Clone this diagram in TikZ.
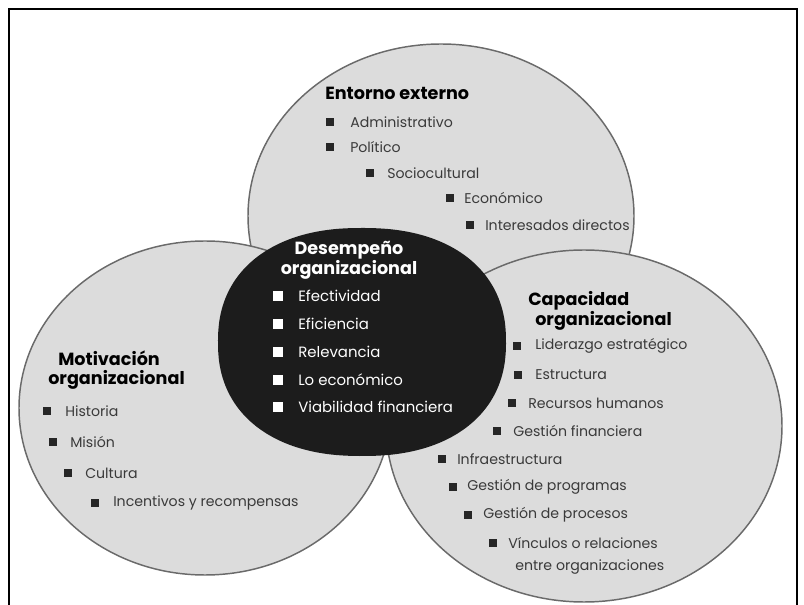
\documentclass[tikz,border=0pt]{standalone}
\usepackage{fontspec}
\setmainfont{Poppins}
\definecolor{zonefill}{HTML}{DCDCDC}
\definecolor{zoneline}{HTML}{6A6A6A}
\definecolor{corefill}{HTML}{1C1C1C}
\definecolor{itemtext}{HTML}{3A3A3A}
\tikzset{
  zone/.style={draw=zoneline, line width=1.1pt, fill=zonefill},
  core/.style={fill=corefill},
  head/.style={font=\bfseries\fontsize{13.2}{15}\selectfont, anchor=west, inner sep=0pt, text=black},
  corehead/.style={head, text=white, anchor=center},
  entry/.style={font=\fontsize{10.6}{12}\selectfont, anchor=west, inner sep=0pt, text=itemtext},
  coreentry/.style={entry, font=\fontsize{11.2}{12}\selectfont, text=white},
  blk/.style={fill=black!85, minimum size=6pt, inner sep=0pt},
  wht/.style={fill=white, minimum size=7pt, inner sep=0pt},
}
\begin{document}
\begin{tikzpicture}[x=0.75pt, y=-0.75pt]
\useasboundingbox (0,0) rectangle (804,605);
\clip (0,0) rectangle (804,605);

% page frame
\draw[line width=2pt] (9,9) rectangle (797,640);

% the three outer zones
\draw[zone] (441,216) ellipse [x radius=144.75pt, y radius=129pt];
\draw[zone] (584,426) ellipse [x radius=148.5pt, y radius=132pt];
\draw[zone] (205,408) ellipse [x radius=139.5pt, y radius=125.25pt];
% central core: a gently squared oval
\fill[core] plot[domain=0.5:360.5, samples=181, variable=\t, smooth cycle]
  ({362+144*sign(cos(\t))*abs(cos(\t))^0.88}, {342+114*sign(sin(\t))*abs(sin(\t))^0.88});

% Entorno externo
\node[head] (ee) at (325,93) {Entorno externo};
\node[blk] (ee1b) at (330,122) {}; \node[entry] (ee1) at (350,122) {Administrativo};
\node[blk] (ee2b) at (330,147) {}; \node[entry] (ee2) at (350,147) {Político};
\node[blk] (ee3b) at (370,173) {}; \node[entry] (ee3) at (387,173) {Sociocultural};
\node[blk] (ee4b) at (450,198) {}; \node[entry] (ee4) at (464,198) {Económico};
\node[blk] (ee5b) at (470,225) {}; \node[entry] (ee5) at (485,225) {Interesados directos};

% Desempeño organizacional
\node[corehead] (do) at (349,250) {Desempeño};
\node[corehead] (do0) at (349,270) {organizacional};
\node[wht] (do1b) at (278,296) {}; \node[coreentry] (do1) at (298,296) {Efectividad};
\node[wht] (do2b) at (278,324) {}; \node[coreentry] (do2) at (298,324) {Eficiencia};
\node[wht] (do3b) at (278,352) {}; \node[coreentry] (do3) at (298,352) {Relevancia};
\node[wht] (do4b) at (278,380) {}; \node[coreentry] (do4) at (298,380) {Lo económico};
\node[wht] (do5b) at (278,407) {}; \node[coreentry] (do5) at (298,407) {Viabilidad financiera};

% Motivación organizacional
\node[head] (mo) at (58,358) {Motivación};
\node[head] (mo0) at (48,380) {organizacional};
\node[blk] (mo1b) at (47,411) {}; \node[entry] (mo1) at (65,411) {Historia};
\node[blk] (mo2b) at (53,442) {}; \node[entry] (mo2) at (70,442) {Misión};
\node[blk] (mo3b) at (68,473) {}; \node[entry] (mo3) at (85,473) {Cultura};
\node[blk] (mo4b) at (95,503) {}; \node[entry] (mo4) at (113,503) {Incentivos y recompensas};

% Capacidad organizacional
\node[head] (co) at (528,301) {Capacidad};
\node[head] (co0) at (535,321) {organizacional};
\node[blk] (co1b) at (517,346) {}; \node[entry] (co1) at (535,346) {Liderazgo estratégico};
\node[blk] (co2b) at (518,375) {}; \node[entry] (co2) at (535,375) {Estructura};
\node[blk] (co3b) at (512,403) {}; \node[entry] (co3) at (528,403) {Recursos humanos};
\node[blk] (co4b) at (497,431) {}; \node[entry] (co4) at (513,431) {Gestión financiera};
\node[blk] (co5b) at (442,459) {}; \node[entry] (co5) at (457,459) {Infraestructura};
\node[blk] (co6b) at (453,487) {}; \node[entry] (co6) at (467,487) {Gestión de programas};
\node[blk] (co7b) at (468,515) {}; \node[entry] (co7) at (483,515) {Gestión de procesos};
\node[blk] (co8b) at (493,543) {}; \node[entry] (co8) at (508,543) {Vínculos o relaciones};
\node[entry] (co8c) at (515,567) {entre organizaciones};
\end{tikzpicture}
\end{document}
